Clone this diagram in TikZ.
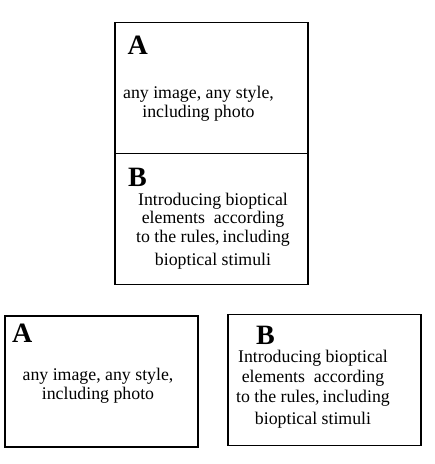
\documentclass[tikz,border=0pt]{standalone}
\usepackage{fontspec}
\setmainfont{Liberation Serif}
\begin{document}
\begin{tikzpicture}[x=1pt,y=-1pt,
    panel/.style={draw, line width=1.8pt, minimum width=193pt, minimum height=131pt, inner sep=0},
    letter/.style={anchor=base west, inner sep=0, font=\fontsize{28}{28}\selectfont\bfseries},
    body/.style={align=center, anchor=base, inner sep=0, font=\fontsize{17.8}{18.5}\selectfont}]
    \useasboundingbox (0,0) rectangle (435,464);
    % stacked pair
    \node[panel] (boxA) at (211.5, 88) {};
    \node[panel] (boxB) at (211.5, 219) {};
    \node[letter] (letA) at (127.5, 54.5) {A};
    \node[body] (txtA) at (198.5, 117) {any image, any style,\\including photo};
    \node[letter] (letB) at (128, 186.5) {B};
    \node[body] (txtB) at (213, 265) {Introducing bioptical\\elements\ \ according\\[0.5pt]to the rules,\,including\\[4pt]bioptical stimuli};
    % side by side pair
    \node[panel] (boxAA) at (101.5, 381.5) {};
    \node[panel] (boxBB) at (324.5, 380) {};
    \node[letter] (letAA) at (12, 342) {A};
    \node[body] (txtAA) at (98, 399) {any image, any style,\\including photo};
    \node[letter] (letBB) at (256, 344) {B};
    \node[body] (txtBB) at (313, 424) {Introducing bioptical\\[1pt]elements\ \ according\\[1.5pt]to the rules,\,including\\[3.5pt]bioptical stimuli};
\end{tikzpicture}
\end{document}
